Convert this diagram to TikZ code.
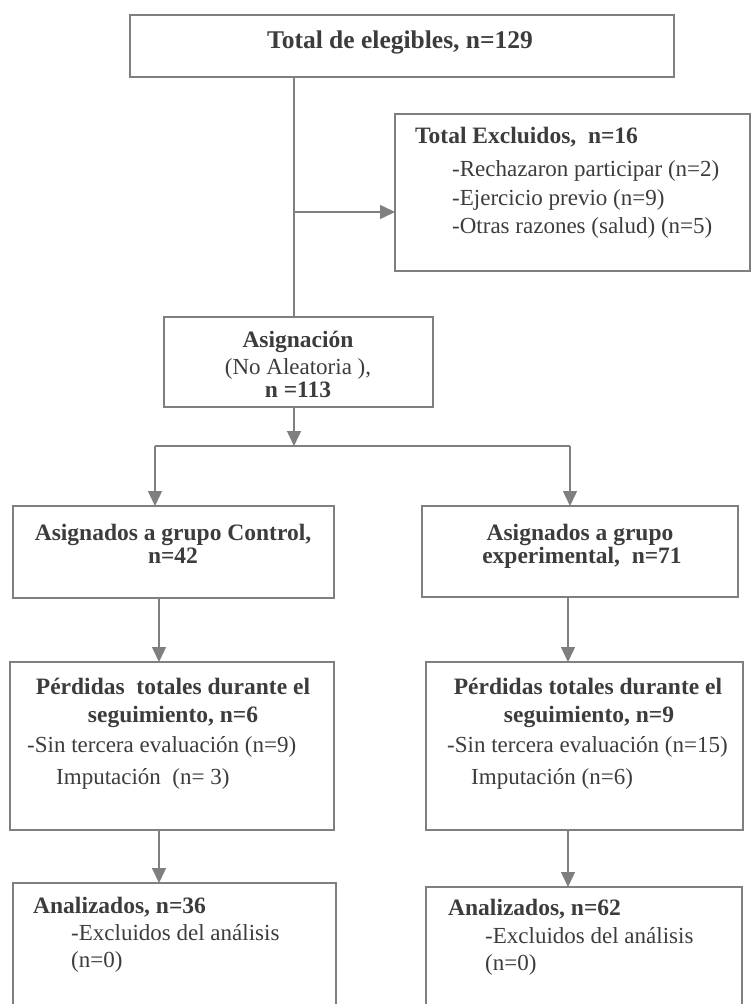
\documentclass[tikz,border=0pt]{standalone}
\usepackage{fontspec}
\setmainfont{Liberation Serif}
\usetikzlibrary{arrows.meta}
\definecolor{linegray}{HTML}{7F7F7F}
\definecolor{txtgray}{HTML}{3C3C3C}
\begin{document}
\begin{tikzpicture}[x=1pt,y=-1pt,
  box/.style={draw=linegray, line width=1.4pt, inner sep=0pt, outer sep=0pt},
  conn/.style={draw=linegray, line width=1.4pt},
  arr/.style={draw=linegray, line width=1.4pt, -{Triangle[width=14pt,length=15pt]}},
  lbl/.style={text=txtgray, inner sep=0pt, font=\fontsize{23}{28}\selectfont},
  blbl/.style={text=txtgray, inner sep=0pt, font=\fontsize{23.5}{28}\selectfont\bfseries},
  tlbl/.style={text=txtgray, inner sep=0pt, font=\fontsize{25.5}{30}\selectfont\bfseries}]
\useasboundingbox (0,0) rectangle (752,1004);
\clip (0,0) rectangle (752,1004);
% boxes
\node[box, minimum width=544pt, minimum height=62pt] (top) at (402,46) {};
\node[box, minimum width=355pt, minimum height=157pt] (excl) at (572.5,192.5) {};
\node[box, minimum width=269pt, minimum height=90pt] (asig) at (298.5,362) {};
\node[box, minimum width=321pt, minimum height=92pt] (ctrl) at (173.5,552) {};
\node[box, minimum width=316pt, minimum height=91pt] (exp) at (580,551.5) {};
\node[box, minimum width=324pt, minimum height=168pt] (perdA) at (172,746) {};
\node[box, minimum width=317pt, minimum height=168pt] (perdB) at (584.5,746) {};
\node[box, minimum width=323pt, minimum height=150pt] (analA) at (174.5,958) {};
\node[box, minimum width=316pt, minimum height=150pt] (analB) at (584,962) {};
% texts
\node[tlbl, anchor=base] (t1) at (400,48) {Total de elegibles, n=129};
\node[blbl, anchor=base west] (e1) at (415,143) {Total Excluidos,\ \ n=16};
\node[lbl, anchor=base west] (e2) at (452,176) {-Rechazaron participar (n=2)};
\node[lbl, anchor=base west] (e3) at (452,205) {-Ejercicio previo (n=9)};
\node[lbl, anchor=base west] (e4) at (452,233) {-Otras razones (salud) (n=5)};
\node[blbl, anchor=base] (a1) at (298,347) {Asignación};
\node[lbl, anchor=base] (a2) at (298,374) {(No Aleatoria ),};
\node[blbl, anchor=base] (a3) at (298,397) {n =113};
\node[blbl, anchor=base] (c1) at (173,540) {Asignados a grupo Control,};
\node[blbl, anchor=base] (c2) at (173,563) {n=42};
\node[blbl, anchor=base] (x1) at (580,540) {Asignados a grupo};
\node[blbl, anchor=base] (x2) at (582,563) {experimental,\ \ n=71};
\node[blbl, anchor=base] (p1) at (173,694) {Pérdidas\ \ totales durante el};
\node[blbl, anchor=base] (p2) at (173,722) {seguimiento, n=6};
\node[lbl, anchor=base west] (p3) at (27,752) {-Sin tercera evaluación (n=9)};
\node[lbl, anchor=base west] (p4) at (56,784) {Imputación\ \ (n= 3)};
\node[blbl, anchor=base] (q1) at (588,694) {Pérdidas totales durante el};
\node[blbl, anchor=base] (q2) at (589,722) {seguimiento, n=9};
\node[lbl, anchor=base west] (q3) at (447,752) {-Sin tercera evaluación (n=15)};
\node[lbl, anchor=base west] (q4) at (471,784) {Imputación (n=6)};
\node[blbl, anchor=base west] (n1) at (33,913) {Analizados, n=36};
\node[lbl, anchor=base west] (n2) at (71,940) {-Excluidos del análisis};
\node[lbl, anchor=base west] (n3) at (71,967) {(n=0)};
\node[blbl, anchor=base west] (m1) at (448,915) {Analizados, n=62};
\node[lbl, anchor=base west] (m2) at (485,943) {-Excluidos del análisis};
\node[lbl, anchor=base west] (m3) at (485,970) {(n=0)};
% connectors
\coordinate (trunk) at (294,212);
\draw[conn] (top.south -| trunk) -- (asig.north -| trunk);
\draw[arr] (trunk) -- (trunk -| excl.west);
\coordinate (split) at (294,446);
\draw[arr] (asig.south -| split) -- (split);
\coordinate (splitL) at (155,446);
\coordinate (splitR) at (570,446);
\draw[conn] (splitL) -- (splitR);
\draw[arr] (splitL) -- (splitL |- ctrl.north);
\draw[arr] (splitR) -- (splitR |- exp.north);
\coordinate (colL) at (159,0);
\coordinate (colR) at (568,0);
\draw[arr] (colL |- ctrl.south) -- (colL |- perdA.north);
\draw[arr] (colR |- exp.south) -- (colR |- perdB.north);
\draw[arr] (colL |- perdA.south) -- (colL |- analA.north);
\draw[arr] (colR |- perdB.south) -- (colR |- analB.north);
\end{tikzpicture}
\end{document}
